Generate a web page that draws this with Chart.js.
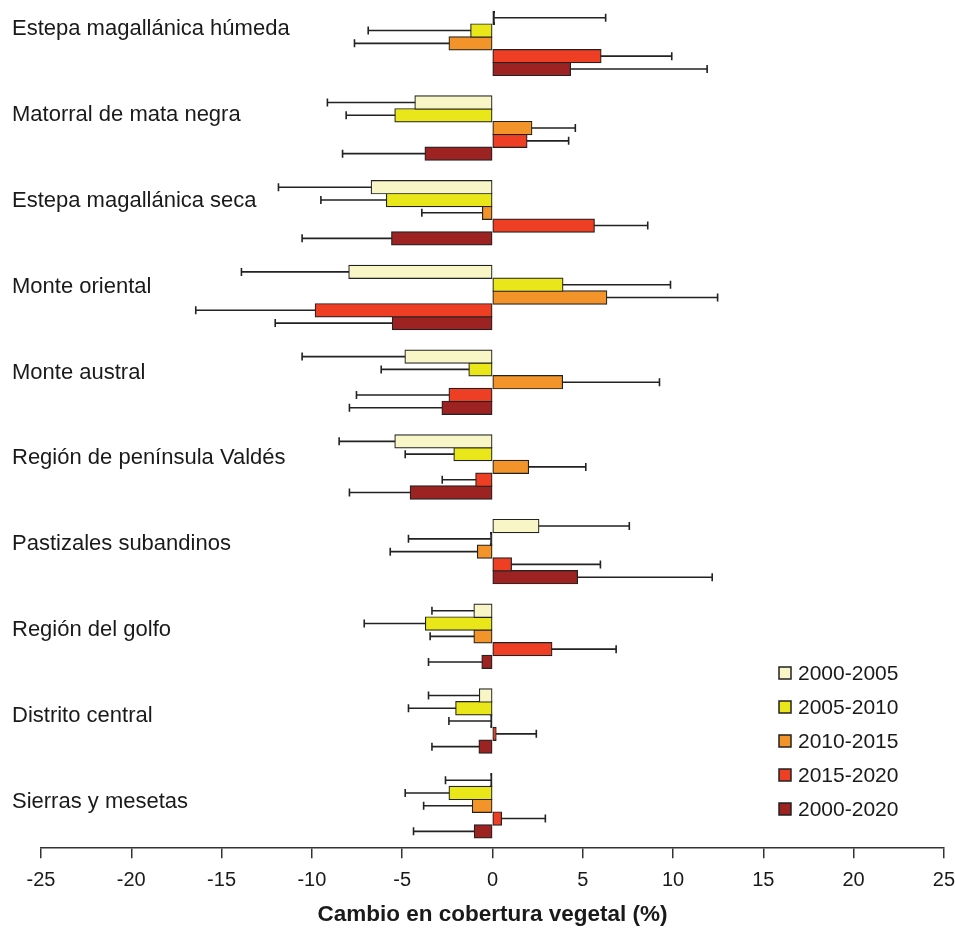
<!DOCTYPE html>
<html lang="es">
<head>
<meta charset="utf-8">
<title>Cambio en cobertura vegetal</title>
<script src="https://cdn.jsdelivr.net/npm/chart.js@4.4.1/dist/chart.umd.min.js"></script>
<style>
    html, body { margin: 0; padding: 0; background: #fff; }
    #wrap { width: 955px; height: 928px; }
</style>
</head>
<body>
<div id="wrap"><canvas id="coberturaChart" width="955" height="928"></canvas></div>
<script>
// Regiones, de arriba hacia abajo
const regiones = [
    'Estepa magallánica húmeda',
    'Matorral de mata negra',
    'Estepa magallánica seca',
    'Monte oriental',
    'Monte austral',
    'Región de península Valdés',
    'Pastizales subandinos',
    'Región del golfo',
    'Distrito central',
    'Sierras y mesetas'
];

const periodos = ['2000-2005', '2005-2010', '2010-2015', '2015-2020', '2000-2020'];
const colores = ['#f8f5c6', '#e9e619', '#f29429', '#ee3e24', '#9c2322'];

// Cambio en cobertura (%) por periodo
const cambio0005 = [0.1, -4.28, -6.7, -7.94, -4.83, -5.39, 2.56, -1.01, -0.71, -0.05];
const cambio0510 = [-1.19, -5.39, -5.86, 3.89, -1.29, -2.12, -0.1, -3.7, -2.02, -2.39];
const cambio1015 = [-2.39, 2.17, -0.54, 6.32, 3.87, 1.99, -0.82, -1.01, -0.08, -1.1];
const cambio1520 = [6.0, 1.9, 5.63, -9.8, -2.39, -0.91, 1.04, 3.28, 0.19, 0.49];
const cambio0020 = [4.31, -3.72, -5.57, -5.53, -2.78, -4.54, 4.7, -0.57, -0.73, -0.99];

// Desvío (%) dibujado hacia afuera de cada barra
const desvio0005 = [6.17, 4.86, 5.15, 5.96, 5.71, 3.1, 5.02, 2.34, 2.83, 2.55];
const desvio0510 = [5.69, 2.71, 3.64, 5.97, 4.87, 2.71, 4.55, 3.4, 2.63, 2.44];
const desvio1015 = [5.25, 2.42, 3.37, 6.15, 5.38, 3.18, 4.84, 2.44, 2.33, 2.71];
const desvio1520 = [3.93, 2.32, 2.97, 6.63, 5.14, 1.87, 4.94, 3.57, 2.24, 2.44];
const desvio0020 = [7.58, 4.58, 4.97, 6.5, 5.14, 3.38, 7.47, 2.97, 2.62, 3.38];

// Ticks del eje x
const ticksX = [-25, -20, -15, -10, -5, 0, 5, 10, 15, 20, 25];

const cambios = [cambio0005, cambio0510, cambio1015, cambio1520, cambio0020];
const desvios = [desvio0005, desvio0510, desvio1015, desvio1520, desvio0020];

const fuente = '"Liberation Sans", Arial, sans-serif';
const colorTexto = '#1a1a1a';
const colorBorde = '#222';

// Barras de error de un solo lado
const barrasError = {
    id: 'barrasError',
    afterDatasetsDraw(chart) {
        const ctx = chart.ctx;
        const xScale = chart.scales.x;
        ctx.save();
        ctx.strokeStyle = colorBorde;
        ctx.lineWidth = 1.6;
        chart.data.datasets.forEach((ds, d) => {
            const meta = chart.getDatasetMeta(d);
            meta.data.forEach((bar, i) => {
                const v = ds.data[i];
                const fin = v + (v < 0 ? -1 : 1) * ds.desvio[i];
                const x0 = xScale.getPixelForValue(v);
                const x1 = xScale.getPixelForValue(fin);
                ctx.beginPath();
                ctx.moveTo(x0, bar.y);
                ctx.lineTo(x1, bar.y);
                ctx.moveTo(x1, bar.y - 4);
                ctx.lineTo(x1, bar.y + 4);
                ctx.stroke();
            });
        });
        ctx.restore();
    }
};

// Nombres de región arriba de cada grupo
const etiquetasRegion = {
    id: 'etiquetasRegion',
    afterDraw(chart) {
        const ctx = chart.ctx;
        const yScale = chart.scales.y;
        ctx.save();
        ctx.font = '22px ' + fuente;
        ctx.fillStyle = colorTexto;
        ctx.textAlign = 'left';
        ctx.textBaseline = 'middle';
        regiones.forEach((r, i) => {
            ctx.fillText(r, 12, yScale.getPixelForValue(i) - 14 + 1.1 * i);
        });
        ctx.restore();
    }
};

// Leyenda abajo a la derecha
const leyenda = {
    id: 'leyenda',
    afterDraw(chart) {
        const ctx = chart.ctx;
        ctx.save();
        ctx.font = '21px ' + fuente;
        ctx.textBaseline = 'middle';
        periodos.forEach((p, i) => {
            const y = 673 + i * 34;
            ctx.fillStyle = colores[i];
            ctx.fillRect(779, y - 6, 12, 12);
            ctx.strokeStyle = colorBorde;
            ctx.lineWidth = 1.5;
            ctx.strokeRect(779, y - 6, 12, 12);
            ctx.fillStyle = colorTexto;
            ctx.fillText(p, 798, y + 1);
        });
        ctx.restore();
    }
};

const ctx = document.getElementById('coberturaChart').getContext('2d');
new Chart(ctx, {
    type: 'bar',
    data: {
        labels: regiones,
        datasets: periodos.map((p, i) => ({
            label: p,
            data: cambios[i],
            desvio: desvios[i],
            // las barras casi nulas quedan como una raya oscura
            backgroundColor: (c) => Math.abs(c.raw) < 0.15 ? colorBorde : colores[i],
            borderColor: colorBorde,
            borderWidth: 1.2,
            borderSkipped: false,
            inflateAmount: 0.75,
            minBarLength: 1.5,
            categoryPercentage: 0.755,
            barPercentage: 1
        }))
    },
    options: {
        responsive: false,
        animation: false,
        indexAxis: 'y',
        layout: {
            padding: { left: 41, right: 11, top: 1, bottom: 0 }
        },
        plugins: {
            legend: { display: false },
            tooltip: { enabled: false }
        },
        scales: {
            x: {
                min: ticksX[0],
                max: ticksX[ticksX.length - 1],
                afterBuildTicks: (scale) => {
                    scale.ticks = ticksX.map(v => ({ value: v }));
                },
                ticks: {
                    color: colorTexto,
                    font: { family: fuente, size: 20, lineHeight: 2.2 },
                    padding: 0,
                    maxRotation: 0
                },
                grid: {
                    drawOnChartArea: false,
                    drawTicks: true,
                    tickLength: 10,
                    color: '#333',
                    lineWidth: 1.5
                },
                border: { display: true, color: '#333', width: 1.5 },
                title: {
                    display: true,
                    text: 'Cambio en cobertura vegetal (%)',
                    color: colorTexto,
                    font: { family: fuente, size: 22.5, weight: 'bold', lineHeight: 1.15 },
                    padding: 0
                }
            },
            y: { display: false }
        }
    },
    plugins: [barrasError, etiquetasRegion, leyenda]
});
</script>
</body>
</html>
